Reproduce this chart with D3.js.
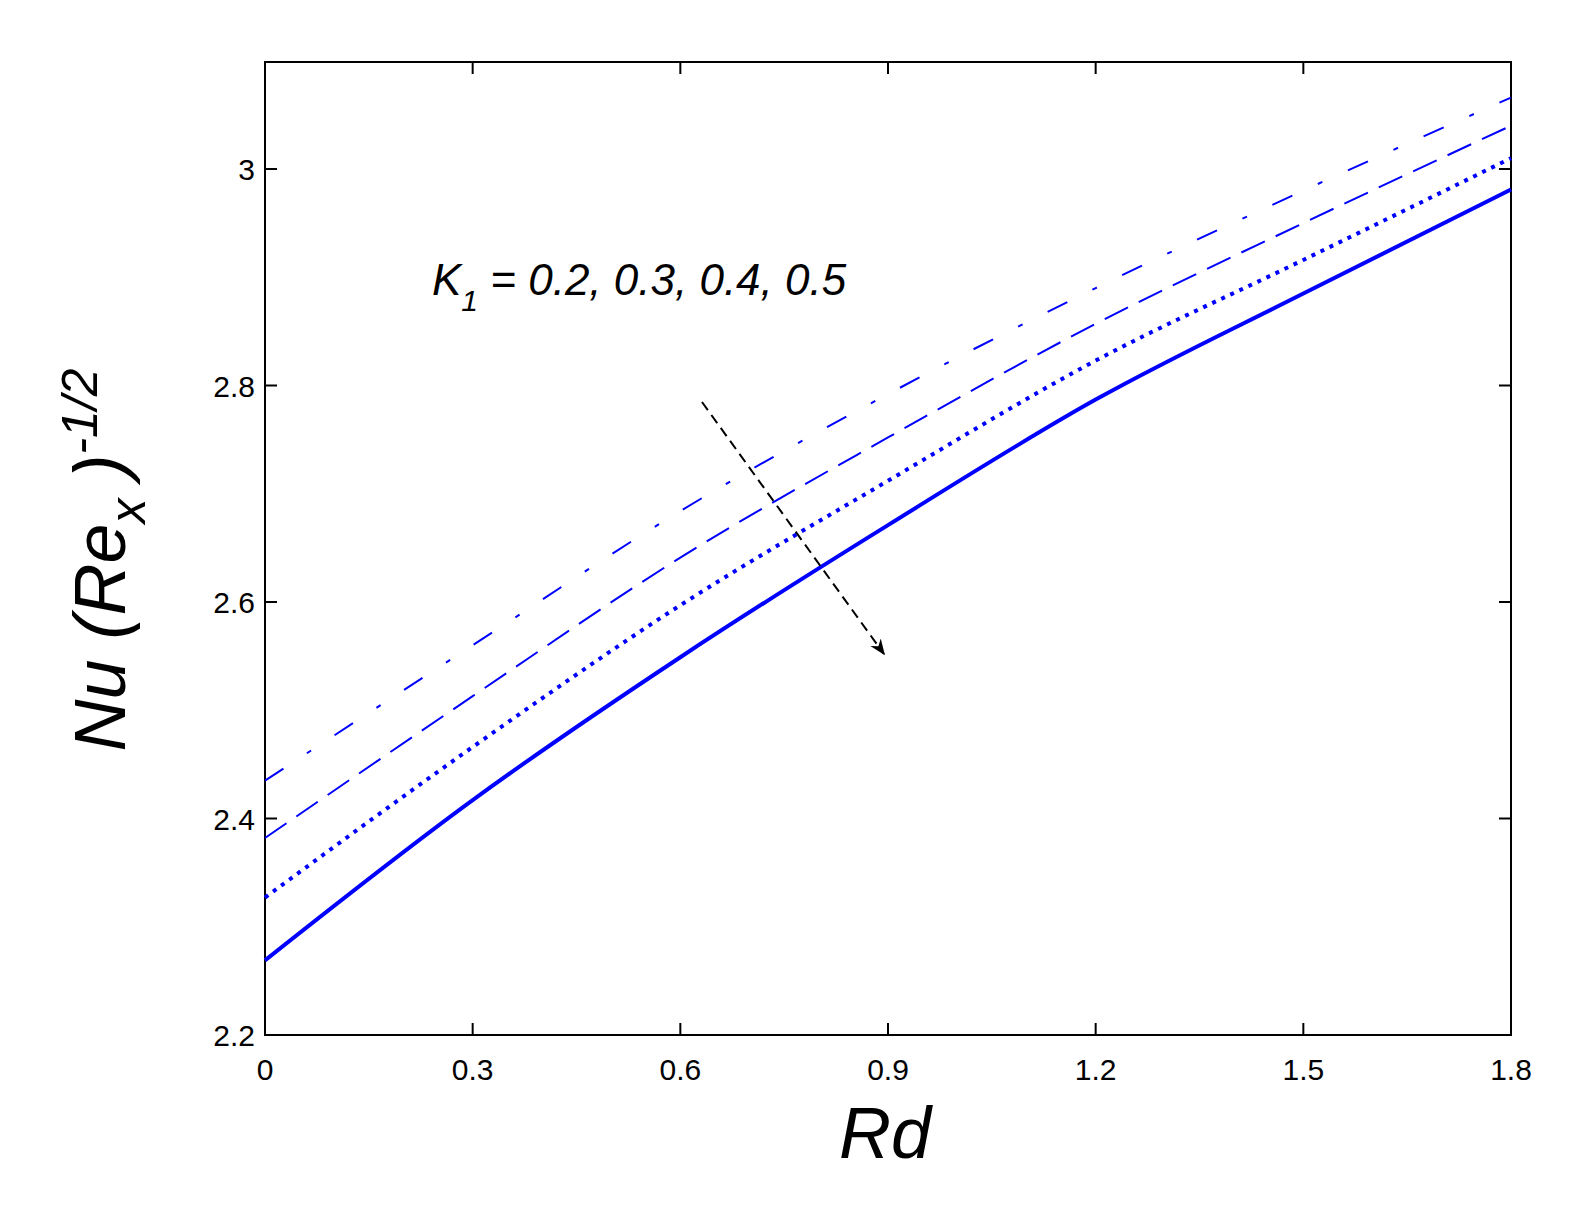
<!DOCTYPE html>
<html><head><meta charset="utf-8">
<script src="https://cdn.jsdelivr.net/npm/d3@7"></script>
<style>body{margin:0;background:#fff;overflow:hidden}svg{display:block}text{font-family:"Liberation Sans",Arial,sans-serif}</style>
</head><body>
<svg id="chart" width="1593" height="1215"></svg>
<script>
var rd = [0, 0.3, 0.6, 0.9, 1.2, 1.5, 1.8];
var k02 = [2.435, 2.560, 2.684, 2.792, 2.890, 2.980, 3.066];
var k03 = [2.382, 2.513, 2.641, 2.752, 2.857, 2.950, 3.040];
var k04 = [2.327, 2.466, 2.597, 2.712, 2.823, 2.916, 3.010];
var k05 = [2.269, 2.417, 2.549, 2.671, 2.787, 2.885, 2.981];
var xTicks = [0, 0.3, 0.6, 0.9, 1.2, 1.5, 1.8];
var yTicks = [2.2, 2.4, 2.6, 2.8, 3.0];

var svg = d3.select("#chart");
var plotLeft = 265, plotRight = 1511, plotTop = 62, plotBottom = 1035;
var x = d3.scaleLinear().domain([0, 1.8]).range([plotLeft, plotRight]);
var y = d3.scaleLinear().domain([2.2, 3.0]).range([plotBottom, 169]);

// frame
svg.append("rect").attr("x", plotLeft).attr("y", plotTop)
  .attr("width", plotRight - plotLeft).attr("height", plotBottom - plotTop)
  .attr("fill", "none").attr("stroke", "#000").attr("stroke-width", 2);

// ticks inward on all sides
xTicks.forEach(function (t) {
  svg.append("line").attr("x1", x(t)).attr("x2", x(t)).attr("y1", plotBottom).attr("y2", plotBottom - 12).attr("stroke", "#000").attr("stroke-width", 2);
  svg.append("line").attr("x1", x(t)).attr("x2", x(t)).attr("y1", plotTop).attr("y2", plotTop + 12).attr("stroke", "#000").attr("stroke-width", 2);
  svg.append("text").attr("x", x(t)).attr("y", plotBottom + 45).attr("text-anchor", "middle")
    .attr("font-size", 30).text(t === 0 ? "0" : d3.format(".1f")(t));
});
yTicks.forEach(function (t) {
  svg.append("line").attr("x1", plotLeft).attr("x2", plotLeft + 12).attr("y1", y(t)).attr("y2", y(t)).attr("stroke", "#000").attr("stroke-width", 2);
  svg.append("line").attr("x1", plotRight).attr("x2", plotRight - 12).attr("y1", y(t)).attr("y2", y(t)).attr("stroke", "#000").attr("stroke-width", 2);
  svg.append("text").attr("x", plotLeft - 10).attr("y", y(t) + 11).attr("text-anchor", "end")
    .attr("font-size", 30).text(t === 3 ? "3" : d3.format(".1f")(t));
});

var line = d3.line().x(function (d, i) { return x(rd[i]); }).y(function (d) { return y(d); })
  .curve(d3.curveMonotoneX);
var series = [
  { v: k02, dash: "22,28,5,28", w: 2 },
  { v: k03, dash: "26,12", w: 2 },
  { v: k04, dash: "4,6", w: 4 },
  { v: k05, dash: null, w: 4 }
];
series.forEach(function (s) {
  svg.append("path").attr("d", line(s.v)).attr("fill", "none").attr("stroke", "#0000ff")
    .attr("stroke-width", s.w).attr("stroke-dasharray", s.dash);
});

// arrow
svg.append("defs").append("marker").attr("id", "ah").attr("viewBox", "0 0 10 10")
  .attr("refX", 9).attr("refY", 5).attr("markerWidth", 8).attr("markerHeight", 8)
  .attr("orient", "auto").append("path").attr("d", "M0,1 L10,5 L0,9 L3,5 Z").attr("fill", "#000");
svg.append("line").attr("x1", 702).attr("y1", 402).attr("x2", 884).attr("y2", 654)
  .attr("stroke", "#000").attr("stroke-width", 2).attr("stroke-dasharray", "10,6")
  .attr("marker-end", "url(#ah)");

// annotation
var ann = svg.append("text").attr("x", 432).attr("y", 295).attr("font-size", 44).attr("font-style", "italic");
ann.append("tspan").text("K");
ann.append("tspan").attr("font-size", 30).attr("dy", 16).text("1");
ann.append("tspan").attr("dy", -16).text(" = 0.2, 0.3, 0.4, 0.5");

// axis labels
svg.append("text").attr("x", 885).attr("y", 1158).attr("text-anchor", "middle")
  .attr("font-size", 72).attr("font-style", "italic").text("Rd");
var yl = svg.append("text").attr("transform", "translate(125,560) rotate(-90)")
  .attr("text-anchor", "middle").attr("font-size", 72).attr("font-style", "italic");
yl.append("tspan").text("Nu (Re");
yl.append("tspan").attr("font-size", 50).attr("dy", 20).text("x");
yl.append("tspan").attr("dy", -20).text(" )");
yl.append("tspan").attr("font-size", 50).attr("dy", -28).text("-1/2");
</script>
</body></html>
